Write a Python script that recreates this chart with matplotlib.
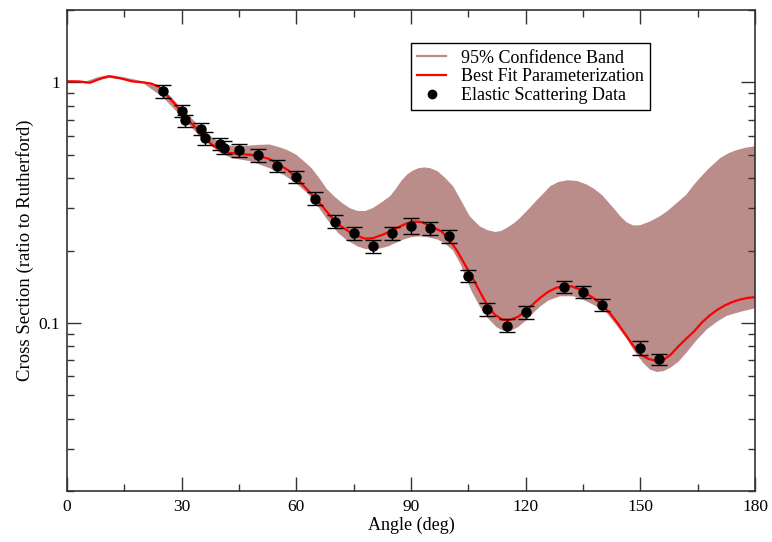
import matplotlib
matplotlib.use("Agg")
import matplotlib.pyplot as plt
from matplotlib.ticker import FixedLocator, FixedFormatter, LogLocator, NullFormatter
from matplotlib.lines import Line2D

# best fit curve (angle in deg, ratio to Rutherford)
fit_angle = [0, 3, 6, 9, 11, 14, 17, 20, 22, 24, 26, 28, 30, 32, 34, 36, 38, 40, 42, 45,
             48, 50, 53, 55, 58, 60, 62, 65, 68, 70, 72, 75, 78, 80, 83, 86, 89, 91, 93, 95,
             98, 100, 102, 104, 106, 108, 110, 112, 114, 116, 118, 120, 122, 124, 126, 128,
             130, 132, 134, 136, 138, 140, 142, 144, 146, 148, 150, 152, 154, 156, 158, 160,
             162, 164, 166, 168, 170, 172, 174, 176, 178, 180]
fit_value = [1.01, 1.01, 0.997, 1.04, 1.06, 1.04, 1.01, 1.0, 0.99, 0.96, 0.89, 0.82, 0.75,
             0.69, 0.64, 0.59, 0.55, 0.525, 0.51, 0.505, 0.50, 0.495, 0.48, 0.46, 0.43, 0.40,
             0.37, 0.33, 0.29, 0.265, 0.25, 0.233, 0.224, 0.225, 0.234, 0.247, 0.26, 0.264,
             0.262, 0.253, 0.24, 0.222, 0.2, 0.176, 0.155, 0.135, 0.118, 0.108, 0.103, 0.103,
             0.106, 0.112, 0.12, 0.128, 0.135, 0.14, 0.142, 0.142, 0.138, 0.132, 0.126, 0.119,
             0.11, 0.1, 0.09, 0.081, 0.074, 0.071, 0.0695, 0.07, 0.074, 0.08, 0.086, 0.092,
             0.1, 0.107, 0.113, 0.118, 0.122, 0.125, 0.127, 0.128]

# 95% confidence band edges
up_angle = [0, 5, 8, 11, 15, 20, 25, 30, 35, 38, 40, 43, 47, 50, 53, 56, 58, 60, 62, 64,
            66, 68, 70, 72, 74, 76, 78, 80, 82, 84.5, 86, 87.5, 89, 90.5, 92, 93.5, 95, 97,
            99, 101, 103, 105.4, 108, 110, 112, 113.5, 115, 117, 118.5, 121, 123, 125,
            126.4, 128.5, 131, 133.5, 136, 138, 140, 143, 145, 146.4, 148.2, 150, 152.5,
            155, 157, 160, 162, 164, 165.6, 168, 171, 173, 175, 177.5, 180]
up_value = [1.02, 1.01, 1.05, 1.075, 1.05, 1.01, 0.95, 0.78, 0.65, 0.59, 0.56, 0.545, 0.545,
            0.55, 0.552, 0.535, 0.52, 0.50, 0.47, 0.44, 0.40, 0.36, 0.335, 0.315, 0.30,
            0.292, 0.292, 0.30, 0.315, 0.336, 0.36, 0.39, 0.414, 0.43, 0.44, 0.443, 0.44,
            0.427, 0.40, 0.37, 0.325, 0.277, 0.252, 0.243, 0.239, 0.241, 0.248, 0.26, 0.273,
            0.30, 0.325, 0.35, 0.37, 0.385, 0.392, 0.389, 0.376, 0.36, 0.34, 0.30, 0.275,
            0.262, 0.254, 0.255, 0.264, 0.277, 0.291, 0.32, 0.341, 0.375, 0.401, 0.44, 0.486,
            0.507, 0.522, 0.535, 0.543]
lo_angle = [0, 5, 8, 11, 15, 20, 25, 30, 35, 38, 40, 43, 48, 53, 57, 60, 63, 66, 68, 71,
            73, 76, 78, 80, 82, 84, 86, 88, 90, 92, 94, 97, 99, 101, 103, 104.6, 106, 108,
            110, 112.4, 114, 116, 118, 120.3, 122, 123.8, 126, 129, 132.5, 134.5, 136.8,
            139, 141.2, 143.5, 146.4, 148.5, 150.8, 152.5, 154.3, 156, 157.8, 160, 162,
            164.5, 167.4, 170, 172.6, 176, 180]
lo_value = [1.0, 0.99, 1.02, 1.045, 1.025, 0.99, 0.87, 0.72, 0.59, 0.54, 0.51, 0.485, 0.47,
            0.44, 0.41, 0.38, 0.345, 0.30, 0.27, 0.236, 0.222, 0.208, 0.203, 0.202, 0.204,
            0.208, 0.215, 0.222, 0.227, 0.229, 0.228, 0.222, 0.213, 0.20, 0.175, 0.151,
            0.134, 0.117, 0.105, 0.096, 0.093, 0.0925, 0.096, 0.103, 0.11, 0.117, 0.124,
            0.129, 0.129, 0.126, 0.121, 0.116, 0.11, 0.099, 0.086, 0.076, 0.068, 0.064,
            0.0625, 0.063, 0.065, 0.069, 0.075, 0.084, 0.094, 0.101, 0.107, 0.111, 0.115]

# elastic scattering data
data_angle = [25, 30, 31, 35, 36, 40, 41, 45, 50, 55, 60, 65, 70, 75, 80, 85, 90, 95, 100,
              105, 110, 115, 120, 130, 135, 140, 150, 155]
data_value = [0.92, 0.76, 0.695, 0.64, 0.585, 0.557, 0.536, 0.522, 0.497, 0.451, 0.405,
              0.329, 0.264, 0.236, 0.209, 0.236, 0.254, 0.247, 0.229, 0.157, 0.114, 0.0975,
              0.111, 0.141, 0.135, 0.119, 0.0787, 0.0706]
data_err = [0.055, 0.045, 0.04, 0.038, 0.035, 0.033, 0.032, 0.031, 0.03, 0.027, 0.024,
            0.02, 0.016, 0.014, 0.013, 0.014, 0.02, 0.015, 0.014, 0.009, 0.007, 0.006,
            0.007, 0.008, 0.008, 0.007, 0.005, 0.004]

band_color = "#ba8c8a"
plt.rcParams["font.family"] = ["Liberation Serif", "DejaVu Serif"]

fig = plt.figure(figsize=(7.72, 5.42), dpi=100)
ax = fig.add_axes([0.0868, 0.0941, 0.8912, 0.8874])

# band: closed polygon from upper edge and reversed lower edge
poly_x = up_angle + lo_angle[::-1]
poly_y = up_value + lo_value[::-1]
ax.fill(poly_x, poly_y, color=band_color, lw=0, zorder=1)
ax.plot(fit_angle, fit_value, color="red", lw=1.6, zorder=2)
ax.errorbar(data_angle, data_value, yerr=data_err, fmt="o", color="black",
            ms=6.5, elinewidth=1.0, capsize=6, capthick=1.0, zorder=3)

ax.set_yscale("log")
ax.set_xlim(0, 180)
ax.set_ylim(0.02, 2)

ax.set_xticks([0, 30, 60, 90, 120, 150, 180])
ax.set_xticks([15, 45, 75, 105, 135, 165], minor=True)
ax.yaxis.set_major_locator(FixedLocator([0.1, 1]))
ax.yaxis.set_major_formatter(FixedFormatter(["0.1", "1"]))
ax.yaxis.set_minor_locator(LogLocator(base=10, subs=range(2, 10)))
ax.yaxis.set_minor_formatter(NullFormatter())

ax.tick_params(which="both", direction="in", top=True, right=True, width=1.0,
               color="#333333", labelsize=12.5)
ax.tick_params(axis="x", pad=6)
ax.tick_params(axis="y", pad=5)
ax.tick_params(which="major", length=10)
ax.tick_params(which="minor", length=5)
for s in ax.spines.values():
    s.set_linewidth(1.2)
    s.set_color("#333333")

ax.set_xlabel("Angle (deg)", fontsize=13, labelpad=1)
ax.set_ylabel("Cross Section (ratio to Rutherford)", fontsize=13.5, labelpad=3)

handles = [Line2D([], [], color=band_color, lw=1.6),
           Line2D([], [], color="red", lw=1.6),
           Line2D([], [], color="black", marker="o", ls="none", ms=6)]
labels = ["95% Confidence Band", "Best Fit Parameterization", "Elastic Scattering Data"]
leg = ax.legend(handles, labels, loc="upper left", bbox_to_anchor=(0.5, 0.931),
                fontsize=13, frameon=True, fancybox=False, framealpha=1,
                edgecolor="black", labelspacing=0.1, handlelength=1.6,
                handletextpad=0.8, borderpad=0.35, borderaxespad=0)
leg.get_frame().set_linewidth(1.0)

fig.savefig("out.png", dpi=100)
